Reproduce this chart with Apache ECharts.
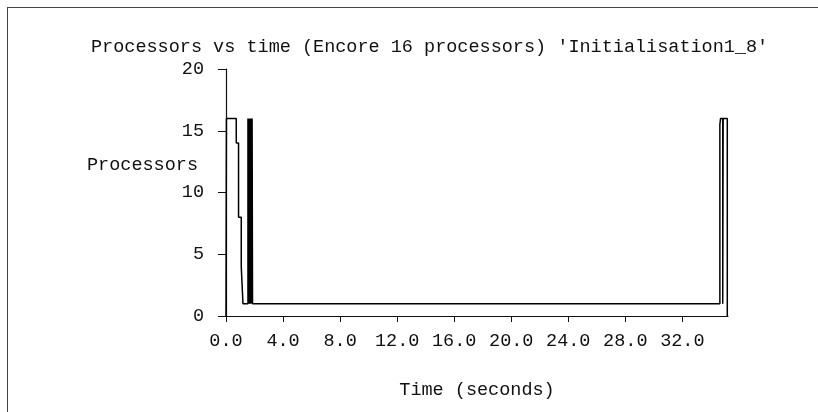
<!DOCTYPE html>
<html>
<head>
<meta charset="utf-8">
<script src="https://cdn.jsdelivr.net/npm/echarts@6/dist/echarts.min.js"></script>
<style>
  body { margin: 0; background: #fff; }
  #chart { position: absolute; left: 0; top: 0; width: 818px; height: 412px; }
  #frame { position: absolute; left: 7px; top: 7px; width: 811px; height: 405px;
           border-top: 1px solid #444; border-left: 1px solid #444; pointer-events: none; }
</style>
</head>
<body>
<div id="chart"></div>
<div id="frame"></div>
<script>
  // processors in use, each value held until the next time stamp
  const times = [0, 0.03, 0.72, 0.88, 1.07, 1.19,
    1.54, 1.57, 1.59, 1.61, 1.63, 1.65, 1.67, 1.69, 1.71, 1.73, 1.75, 1.77, 1.79, 1.81, 1.83, 1.86,
    34.63, 34.68, 34.83, 34.86, 35.15]
  const procs = [0, 16, 14, 8, 4, 1,
    16, 1, 16, 2, 16, 1, 15, 1, 16, 1, 16, 3, 16, 1, 16, 1,
    15.5, 16, 1, 16, 0]
  const xTicks = [0, 4, 8, 12, 16, 20, 24, 28, 32]
  const yTicks = [0, 5, 10, 15, 20]

  const font = 'Liberation Mono'
  const fs = 18.5
  const myChart = echarts.init(document.getElementById('chart'))
  myChart.setOption({
    animation: false,
    title: {
      text: "Processors vs time (Encore 16 processors) 'Initialisation1_8'",
      left: 86,
      top: 33,
      textStyle: {fontFamily: font, fontSize: fs, fontWeight: 'normal', color: '#111'}
    },
    graphic: [{
      type: 'text',
      left: 87,
      top: 156,
      style: {text: 'Processors', font: fs + 'px "Liberation Mono"', fill: '#111'}
    }],
    grid: {
      left: 226,
      top: 69,
      width: 502,
      height: 247
    },
    xAxis: {
      type: 'value',
      min: 0,
      max: 35.2,
      interval: 4,
      name: 'Time (seconds)',
      nameLocation: 'middle',
      nameGap: 65,
      nameTextStyle: {fontFamily: font, fontSize: fs, color: '#111'},
      splitLine: {show: false},
      axisLine: {lineStyle: {color: '#111', width: 1.2}},
      axisTick: {show: true, length: 6, customValues: xTicks, lineStyle: {color: '#111'}},
      axisLabel: {
        customValues: xTicks,
        margin: 16,
        fontFamily: font,
        fontSize: fs,
        color: '#111',
        formatter: v => v.toFixed(1)
      }
    },
    yAxis: {
      type: 'value',
      min: 0,
      max: 20,
      interval: 5,
      splitLine: {show: false},
      axisLine: {show: true, lineStyle: {color: '#111', width: 1.2}},
      axisTick: {show: true, length: 8, customValues: yTicks, lineStyle: {color: '#111'}},
      axisLabel: {
        customValues: yTicks,
        margin: 22,
        fontFamily: font,
        fontSize: fs,
        color: '#111'
      }
    },
    series: [{
      type: 'line',
      step: 'end',
      symbol: 'none',
      data: times.map((t, i) => [t, procs[i]]),
      lineStyle: {color: '#000', width: 1.5}
    }]
  })
</script>
</body>
</html>
